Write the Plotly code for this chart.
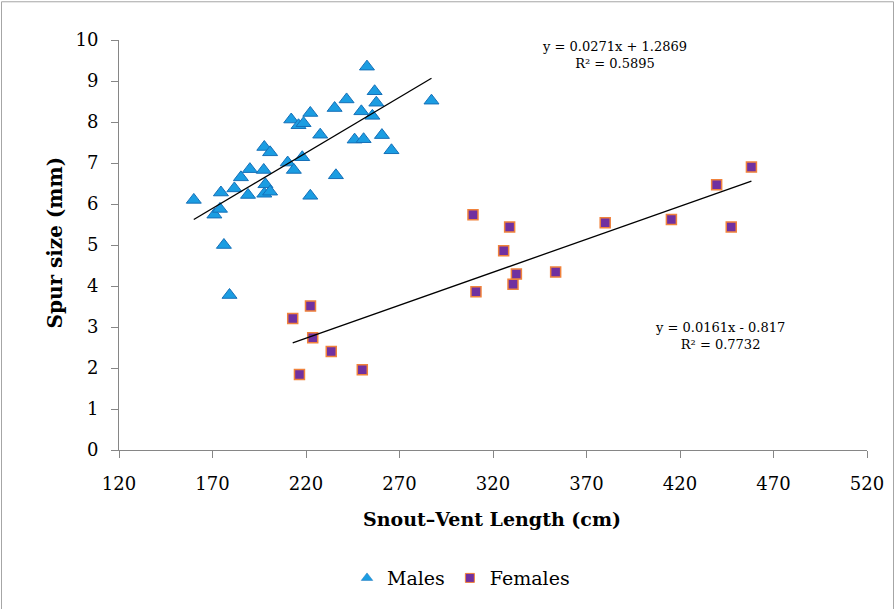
import plotly.graph_objects as go

# Males: snout-vent length (cm), spur size (mm)
male_svl = [160, 171, 174, 174.5, 176.1, 179.1, 181.7, 185.2, 189, 190,
            197.4, 197.7, 197.7, 198.3, 200.8, 200.8, 210.2, 212.1, 213.5, 216,
            218, 218.7, 222.3, 222.3, 227.6, 235.3, 236, 241.7, 246, 249.6,
            250.8, 252.6, 255.5, 256.7, 257.6, 260.6, 265.7, 287.1]
male_spur = [6.1, 5.74, 5.88, 6.28, 5.0, 3.78, 6.38, 6.65, 6.22, 6.85,
             6.83, 7.39, 6.25, 6.48, 7.26, 6.3, 7.01, 8.06, 6.83, 7.92,
             7.14, 7.97, 8.22, 6.2, 7.69, 8.34, 6.7, 8.55, 7.57, 8.26,
             7.58, 9.35, 8.15, 8.75, 8.47, 7.68, 7.31, 8.52]

# Females
female_svl = [212.9, 216.5, 222.4, 223.6, 233.5, 250.1, 309.3, 310.9, 325.7, 328.9,
              330.7, 332.5, 353.5, 380, 415.4, 439.6, 447.4, 458.2]
female_spur = [3.21, 1.84, 3.51, 2.74, 2.40, 1.96, 5.74, 3.86, 4.86, 5.44,
               4.04, 4.29, 4.34, 5.54, 5.62, 6.47, 5.44, 6.90]

# Linear trendlines (from chart equations)
male_slope, male_icpt = 0.0271, 1.2869
female_slope, female_icpt = 0.0161, -0.817
male_line_x = [min(male_svl), max(male_svl)]
female_line_x = [min(female_svl), max(female_svl)]

x_ticks = [120, 170, 220, 270, 320, 370, 420, 470, 520]
y_ticks = list(range(0, 11))

FONT = "DejaVu Serif"
AXIS_GRAY = "#868686"
MALE_FILL, MALE_EDGE = "#1b9de2", "#1670b8"
FEMALE_FILL, FEMALE_EDGE = "#7030a0", "#f0823c"

fig = go.Figure()
fig.add_trace(go.Scatter(
    x=male_svl, y=male_spur, mode="markers", name="Males", showlegend=False,
    marker=dict(symbol="triangle-up", size=13, color=MALE_FILL,
                line=dict(color=MALE_EDGE, width=1)),
))
fig.add_trace(go.Scatter(
    x=female_svl, y=female_spur, mode="markers", name="Females", showlegend=False,
    marker=dict(symbol="square", size=10, color=FEMALE_FILL,
                line=dict(color=FEMALE_EDGE, width=1.5)),
))
fig.add_trace(go.Scatter(
    x=male_line_x, y=[male_slope * v + male_icpt for v in male_line_x],
    mode="lines", line=dict(color="black", width=1.3), showlegend=False,
    hoverinfo="skip",
))
fig.add_trace(go.Scatter(
    x=female_line_x, y=[female_slope * v + female_icpt for v in female_line_x],
    mode="lines", line=dict(color="black", width=1.3), showlegend=False,
    hoverinfo="skip",
))
# legend entries with the small legend symbols of the reference
fig.add_trace(go.Scatter(
    x=[None], y=[None], mode="markers", name="Males",
    marker=dict(symbol="triangle-up", size=10, color=MALE_FILL,
                line=dict(color=MALE_EDGE, width=0.5)),
))
fig.add_trace(go.Scatter(
    x=[None], y=[None], mode="markers", name="Females",
    marker=dict(symbol="square", size=9, color=FEMALE_FILL,
                line=dict(color=FEMALE_EDGE, width=1)),
))

W, H = 895, 609
L, R, T, B = 119, 28, 40, 156
pw, ph = W - L - R, H - T - B

def px_to_paper_x(px):
    return (px - L) / pw

def px_to_paper_y(py):
    return (H - B - py) / ph

def ann(text, cx, cy, size, angle=0):
    return dict(text=text, x=px_to_paper_x(cx), y=px_to_paper_y(cy),
                xref="paper", yref="paper", xanchor="center", yanchor="middle",
                showarrow=False, textangle=angle, align="center",
                font=dict(family=FONT, size=size, color="black"))

annotations = [
    ann("y = 0.0271x + 1.2869<br>R² = 0.5895", 614, 55, 13),
    ann("y = 0.0161x - 0.817<br>R² = 0.7732", 720, 338, 13),
    ann("<b>Spur size (mm)</b>", 55, 244, 20, -90),
    ann("<b>Snout–Vent Length (cm)</b>", 492, 523, 19),
]

fig.update_layout(
    width=W, height=H,
    margin=dict(l=L, r=R, t=T, b=B),
    paper_bgcolor="white", plot_bgcolor="white",
    font=dict(family=FONT, size=18, color="black"),
    showlegend=True,
    legend=dict(orientation="h", x=px_to_paper_x(461), xanchor="center",
                y=px_to_paper_y(582), yanchor="middle",
                font=dict(family=FONT, size=19), itemsizing="trace", itemwidth=30),
    annotations=annotations,
    shapes=[dict(type="rect", xref="paper", yref="paper",
                 x0=px_to_paper_x(1.5), x1=px_to_paper_x(893.5),
                 y0=px_to_paper_y(620), y1=px_to_paper_y(1.5),
                 line=dict(color="#a6a6a6", width=1))],
)
fig.update_xaxes(range=[120, 520], tickvals=x_ticks, showgrid=False, zeroline=False,
                 showline=True, linecolor=AXIS_GRAY, linewidth=1,
                 ticks="outside", ticklen=7, tickcolor=AXIS_GRAY,
                 ticklabelstandoff=10,
                 tickfont=dict(family=FONT, size=18))
fig.update_yaxes(range=[0, 10], tickvals=y_ticks, showgrid=False, zeroline=False,
                 showline=True, linecolor=AXIS_GRAY, linewidth=1,
                 ticks="outside", ticklen=7, tickcolor=AXIS_GRAY,
                 ticklabelstandoff=9,
                 tickfont=dict(family=FONT, size=18))

fig.write_html("out.html", config={"displayModeBar": False},
               post_script="document.body.style.margin='0px';")
